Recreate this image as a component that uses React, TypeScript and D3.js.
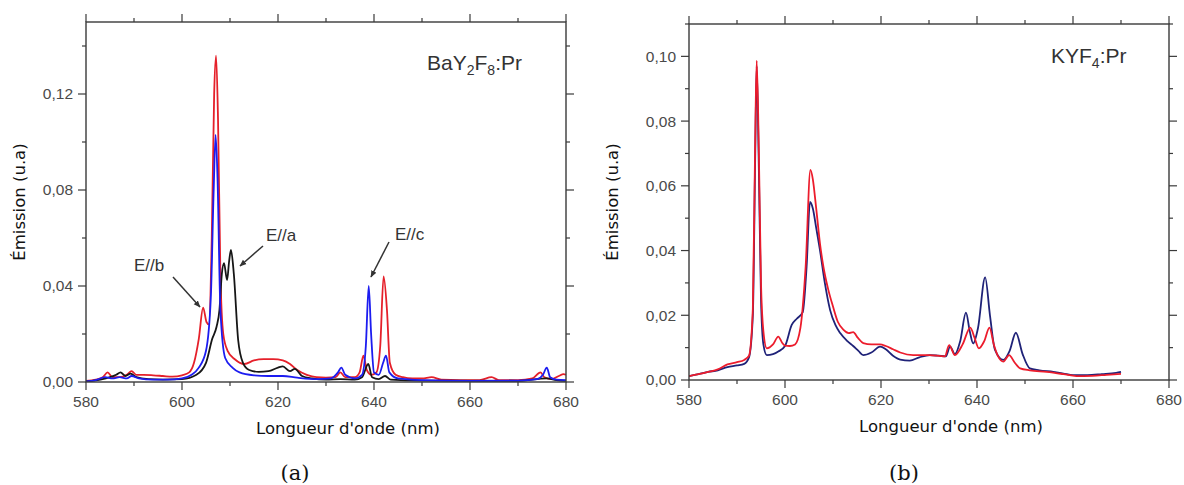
import React from "react";
import * as d3 from "d3";

// ---------- Panel (a) BaY2F8:Pr ----------
const aRedX = [580,582,583.5,584.5,585.5,587,588.5,589.5,590.5,592,594,596,598,600,601.5,602.5,603.5,604.4,605.1,605.6,606.2,606.7,607.1,607.5,608,608.6,609.5,611,613,615,617,619,621,622.5,624,626,628,630,632,633,634,636,637,637.8,638.5,639.5,640.5,641.3,642,642.7,643.3,644.5,646,648,650,652,654,658,662,664.5,666,670,673,674.7,675.5,677,678.5,679.5,680];
const aRedY = [0.0005,0.001,0.002,0.004,0.002,0.002,0.003,0.0045,0.003,0.003,0.0028,0.0025,0.0022,0.0028,0.004,0.008,0.018,0.031,0.025,0.024,0.06,0.12,0.136,0.11,0.045,0.02,0.013,0.0095,0.0075,0.009,0.0095,0.0095,0.009,0.0075,0.005,0.003,0.002,0.0018,0.002,0.004,0.002,0.002,0.004,0.011,0.005,0.003,0.004,0.015,0.044,0.03,0.008,0.003,0.002,0.0015,0.0015,0.002,0.001,0.0008,0.0008,0.002,0.0008,0.0008,0.0015,0.004,0.002,0.0012,0.0025,0.0033,0.003];

const aBlueX = [580,582,584,585.5,587,588.5,589.5,591,594,597,600,602,603.5,605,606,606.6,607,607.4,608,609,610.5,612,615,618,621,624,628,631,632.5,633.2,634,636,637.5,638.3,638.9,639.4,640,641,641.9,642.5,643.2,645,650,660,670,674,675.2,676,676.7,678,680];
const aBlueY = [0.0003,0.0008,0.002,0.0015,0.002,0.0015,0.0025,0.0015,0.001,0.001,0.0015,0.003,0.006,0.013,0.035,0.08,0.103,0.085,0.03,0.01,0.006,0.004,0.0028,0.0025,0.0025,0.0018,0.0012,0.0015,0.004,0.006,0.003,0.0015,0.003,0.015,0.04,0.02,0.004,0.003,0.008,0.011,0.004,0.0015,0.0008,0.0005,0.0006,0.0012,0.003,0.006,0.002,0.001,0.0008];

const aBlackX = [580,583,585,586.3,587.2,588.2,589.3,590.5,593,596,600,603,605,606.3,607.2,607.8,608.3,608.75,609.4,609.8,610.2,610.8,611.7,612.7,614,616,618,620,621,622.5,623.5,625,627,630,633,636,637.5,638.8,639.6,641,642.3,643.5,650,670,676,678,680];
const aBlackY = [0.0002,0.001,0.002,0.003,0.004,0.0025,0.0035,0.002,0.0012,0.001,0.0012,0.003,0.008,0.018,0.023,0.03,0.045,0.0495,0.0425,0.05,0.055,0.045,0.0175,0.008,0.005,0.0042,0.0045,0.006,0.0065,0.0045,0.0055,0.0025,0.0015,0.001,0.0012,0.001,0.002,0.0075,0.002,0.0012,0.0025,0.001,0.0006,0.0005,0.0015,0.0008,0.0005];

// ---------- Panel (b) KYF4:Pr ----------
const bNavyX = [580,582,584,586,588,590,591.5,592.5,593.3,593.8,594.1,594.5,595,595.5,596.2,597.5,598.6,600,601.4,602.5,603.7,604.5,605.2,605.8,606.5,607.3,608.3,609.4,610.5,611.5,613,614.2,615.3,616.3,618,619.8,621,622.5,624,626,628,630.2,632,633.5,634.4,635.4,636.5,637.7,638.5,639.2,640.2,641.7,642.7,643.75,645.5,646.8,648.1,649.5,651,653,655.9,658,660,663,666,669,670];
const bNavyY = [0.0012,0.0018,0.0025,0.003,0.004,0.0045,0.005,0.007,0.02,0.07,0.097,0.07,0.025,0.011,0.0077,0.008,0.0088,0.0105,0.017,0.019,0.021,0.035,0.055,0.053,0.047,0.04,0.03,0.0216,0.017,0.0145,0.012,0.0105,0.009,0.0077,0.0085,0.0103,0.0095,0.0075,0.0063,0.006,0.007,0.0077,0.0075,0.0073,0.0103,0.008,0.012,0.0208,0.015,0.0113,0.016,0.0317,0.02,0.0093,0.0062,0.009,0.0146,0.008,0.0036,0.003,0.0025,0.002,0.0015,0.0015,0.0018,0.0022,0.0025];

const bRedX = [580,582,584,586,588,590,591.5,592.5,593.3,593.8,594.1,594.5,595,595.5,596.2,597.5,598.6,599.4,600,601,602.1,603.2,604.3,605.3,605.8,606.5,607.3,608,609,610,611,612.2,613.3,614.2,615.2,616.3,618,619.8,621,622.5,624,626.7,630,633.3,634.2,635.4,637,638.6,639.5,640.4,641.5,642.6,643.5,644.4,645.5,646.7,647.8,649,651,654.5,658,660.7,664,667,670];
const bRedY = [0.0012,0.0018,0.0025,0.0033,0.0048,0.0055,0.0062,0.0075,0.022,0.075,0.0987,0.075,0.03,0.015,0.0098,0.011,0.0134,0.0115,0.0106,0.0105,0.011,0.016,0.035,0.0649,0.062,0.053,0.042,0.035,0.028,0.0227,0.018,0.0155,0.0145,0.0148,0.013,0.0114,0.011,0.011,0.0105,0.0095,0.0085,0.0077,0.0077,0.0073,0.0108,0.0077,0.011,0.0162,0.013,0.0098,0.012,0.0162,0.011,0.0073,0.0057,0.0077,0.0055,0.0036,0.003,0.0025,0.0018,0.0012,0.0013,0.0016,0.0019];

const xMajorTicks = [580, 600, 620, 640, 660, 680];
const xMinorTicks = [590, 610, 630, 650, 670];
const aYMajor = [0, 0.04, 0.08, 0.12];
const aYMinor = [0.02, 0.06, 0.1, 0.14];
const bYMajor = [0, 0.02, 0.04, 0.06, 0.08, 0.1];
const bYMinor = [0.01, 0.03, 0.05, 0.07, 0.09, 0.11];

const AXIS = "#3a3a3a";
const TICKTXT = "#4a4a4a";
const LABEL_FONT = "'DejaVu Sans', sans-serif";
const TICK_FONT = "'Liberation Sans', Arial, sans-serif";

type Series = { xs: number[]; ys: number[]; color: string };

function Panel(props: {
  left: number; right: number; top: number; bottom: number;
  yMax: number; yMajor: number[]; yMinor: number[];
  series: Series[]; ylabX: number; children?: any; clipId: string;
}) {
  const { left, right, top, bottom, yMax, yMajor, yMinor, series, ylabX, clipId } = props;
  const x = d3.scaleLinear().domain([580, 680]).range([left, right]);
  const y = d3.scaleLinear().domain([0, yMax]).range([bottom, top]);
  const line = d3.line<[number, number]>().x(d => x(d[0])).y(d => y(d[1])).curve(d3.curveMonotoneX);
  const fmt = (v: number) => d3.format(".2f")(v).replace(".", ",");
  const maj = 8, min = 4;
  return (
    <g>
      <defs>
        <clipPath id={clipId}><rect x={left} y={top} width={right - left} height={bottom - top} /></clipPath>
      </defs>
      <g clipPath={`url(#${clipId})`}>
        {series.map((s, i) => (
          <path key={i} d={line(s.xs.map((v, j) => [v, s.ys[j]] as [number, number])) || ""}
            fill="none" stroke={s.color} strokeWidth={1.8} strokeLinejoin="round" />
        ))}
      </g>
      <rect x={left} y={top} width={right - left} height={bottom - top} fill="none" stroke={AXIS} strokeWidth={1.4} />
      {xMajorTicks.map(t => (
        <g key={"xM" + t}>
          <line x1={x(t)} x2={x(t)} y1={bottom} y2={bottom + maj} stroke={AXIS} strokeWidth={1.2} />
          <line x1={x(t)} x2={x(t)} y1={top} y2={top - maj} stroke={AXIS} strokeWidth={1.2} />
          <text x={x(t)} y={bottom + 25} textAnchor="middle" fontFamily={TICK_FONT} fontSize={15.5} fill={TICKTXT}>{t}</text>
        </g>
      ))}
      {xMinorTicks.map(t => (
        <g key={"xm" + t}>
          <line x1={x(t)} x2={x(t)} y1={bottom} y2={bottom + min} stroke={AXIS} strokeWidth={1.2} />
          <line x1={x(t)} x2={x(t)} y1={top} y2={top - min} stroke={AXIS} strokeWidth={1.2} />
        </g>
      ))}
      {yMajor.map(t => (
        <g key={"yM" + t}>
          <line x1={left} x2={left - maj} y1={y(t)} y2={y(t)} stroke={AXIS} strokeWidth={1.2} />
          <line x1={right} x2={right + maj} y1={y(t)} y2={y(t)} stroke={AXIS} strokeWidth={1.2} />
          <text x={left - 13} y={y(t)} dy="0.35em" textAnchor="end" fontFamily={TICK_FONT} fontSize={15.5} fill={TICKTXT}>{fmt(t)}</text>
        </g>
      ))}
      {yMinor.map(t => (
        <g key={"ym" + t}>
          <line x1={left} x2={left - min} y1={y(t)} y2={y(t)} stroke={AXIS} strokeWidth={1.2} />
          <line x1={right} x2={right + min} y1={y(t)} y2={y(t)} stroke={AXIS} strokeWidth={1.2} />
        </g>
      ))}
      <text x={(left + right) / 2 + 22} y={bottom + 52} textAnchor="middle" fontFamily={LABEL_FONT} fontSize={16.5} fill="#111">Longueur d'onde (nm)</text>
      <text transform={`translate(${ylabX},${(top + bottom) / 2}) rotate(-90)`} textAnchor="middle" dy="0.35em" fontFamily={LABEL_FONT} fontSize={16.5} fill="#111">Émission (u.a)</text>
      {props.children}
    </g>
  );
}

export default function App() {
  const ann = { fontFamily: TICK_FONT, fontSize: 17, fill: "#333" };
  return (
    <svg width={1184} height={485} style={{ position: "absolute", left: 0, top: 0, background: "#fff" }}>
      <defs>
        <marker id="arr" viewBox="0 0 10 10" refX="9" refY="5" markerWidth="7" markerHeight="7" orient="auto" markerUnits="userSpaceOnUse">
          <path d="M0,1 L10,5 L0,9 z" fill="#333" />
        </marker>
      </defs>
      <rect width={1184} height={485} fill="#fff" />
      <Panel left={86} right={566} top={22} bottom={382} yMax={0.15} yMajor={aYMajor} yMinor={aYMinor}
        clipId="ca" ylabX={19}
        series={[
          { xs: aRedX, ys: aRedY, color: "#e5202a" },
          { xs: aBlackX, ys: aBlackY, color: "#161616" },
          { xs: aBlueX, ys: aBlueY, color: "#1c1cf0" },
        ]}>
        <text x={427} y={70} fontFamily={TICK_FONT} fontSize={21} fill="#333">
          BaY<tspan fontSize={14} dy={5}>2</tspan><tspan dy={-5}>F</tspan><tspan fontSize={14} dy={5}>8</tspan><tspan dy={-5}>:Pr</tspan>
        </text>
        <text x={134} y={271} {...ann}>E//b</text>
        <line x1={173} y1={277} x2={200} y2={307} stroke="#333" strokeWidth={1.5} markerEnd="url(#arr)" />
        <text x={266} y={241} {...ann}>E//a</text>
        <line x1={263} y1={246} x2={240} y2={266} stroke="#333" strokeWidth={1.5} markerEnd="url(#arr)" />
        <text x={395} y={240} {...ann}>E//c</text>
        <line x1={389} y1={242} x2={371} y2={277} stroke="#333" strokeWidth={1.5} markerEnd="url(#arr)" />
      </Panel>
      <Panel left={689} right={1169} top={24} bottom={380} yMax={0.11} yMajor={bYMajor} yMinor={bYMinor}
        clipId="cb" ylabX={612}
        series={[
          { xs: bNavyX, ys: bNavyY, color: "#1f2278" },
          { xs: bRedX, ys: bRedY, color: "#ec1c2c" },
        ]}>
        <text x={1051} y={63} fontFamily={TICK_FONT} fontSize={21} fill="#333">
          KYF<tspan fontSize={14} dy={5}>4</tspan><tspan dy={-5}>:Pr</tspan>
        </text>
      </Panel>
      <text x={295} y={480} textAnchor="middle" fontFamily="'DejaVu Serif', serif" fontSize={21} fill="#111">(a)</text>
      <text x={904} y={480} textAnchor="middle" fontFamily="'DejaVu Serif', serif" fontSize={21} fill="#111">(b)</text>
    </svg>
  );
}
